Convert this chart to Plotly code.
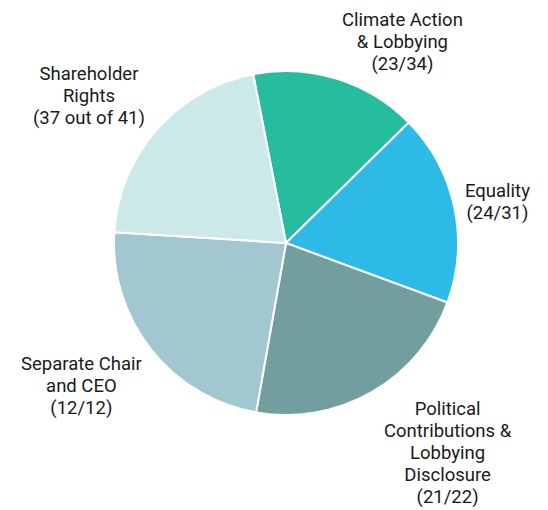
import math
import plotly.graph_objects as go

labels = ["Climate Action<br>& Lobbying<br>(23/34)",
          "Equality<br>(24/31)",
          "Political<br>Contributions &<br>Lobbying<br>Disclosure<br>(21/22)",
          "Separate Chair<br>and CEO<br>(12/12)",
          "Shareholder<br>Rights<br>(37 out of 41)"]
passed = [23, 24, 21, 12, 37]
total = [34, 31, 22, 12, 41]
values = [p / t * 100 for p, t in zip(passed, total)]
colors = ["#26BC9E", "#2EBAE6", "#729E9F", "#A3C7D0", "#CCE9EA"]

W, H = 548, 510
cx, cy, r = 286, 243, 172
rotation = -11
label_r = r + 9

fig = go.Figure(go.Pie(
    labels=labels,
    values=values,
    sort=False,
    direction="clockwise",
    rotation=rotation,
    marker=dict(colors=colors, line=dict(color="white", width=2)),
    textinfo="none",
    showlegend=False,
    hoverinfo="label",
    domain=dict(x=[(cx - r) / W, (cx + r) / W], y=[1 - (cy + r) / H, 1 - (cy - r) / H]),
))

# labels placed outside each slice, at the slice's middle angle
tot = sum(values)
cum = 0
annotations = []
for lab, v in zip(labels, values):
    mid = rotation + (cum + v / 2) / tot * 360
    cum += v
    a = math.radians(mid)
    ux, uy = math.sin(a), -math.cos(a)  # screen direction (y down)
    px, py = cx + label_r * ux, cy + label_r * uy
    xa = "left" if ux > 0.25 else ("right" if ux < -0.25 else "center")
    ya = "bottom" if uy < -0.3 else ("top" if uy > 0.3 else "middle")
    ys = {"bottom": -7, "top": 4, "middle": 3}[ya]
    xs = 6 if (xa == "left" and ya == "top") else (-3 if (xa == "right" and ya == "bottom") else 0)
    annotations.append(dict(
        x=px / W, y=1 - py / H, xref="paper", yref="paper",
        text='<span style="font-size:18.5px">' + lab + '</span>',
        showarrow=False, xanchor=xa, yanchor=ya, align="center",
        xshift=xs, yshift=ys,
        font=dict(family="Roboto", size=17, color="#1a1a1a"),
    ))

fig.update_layout(
    width=W, height=H,
    margin=dict(l=0, r=0, t=0, b=0),
    paper_bgcolor="white",
    annotations=annotations,
)
fig.write_html("out.html")
